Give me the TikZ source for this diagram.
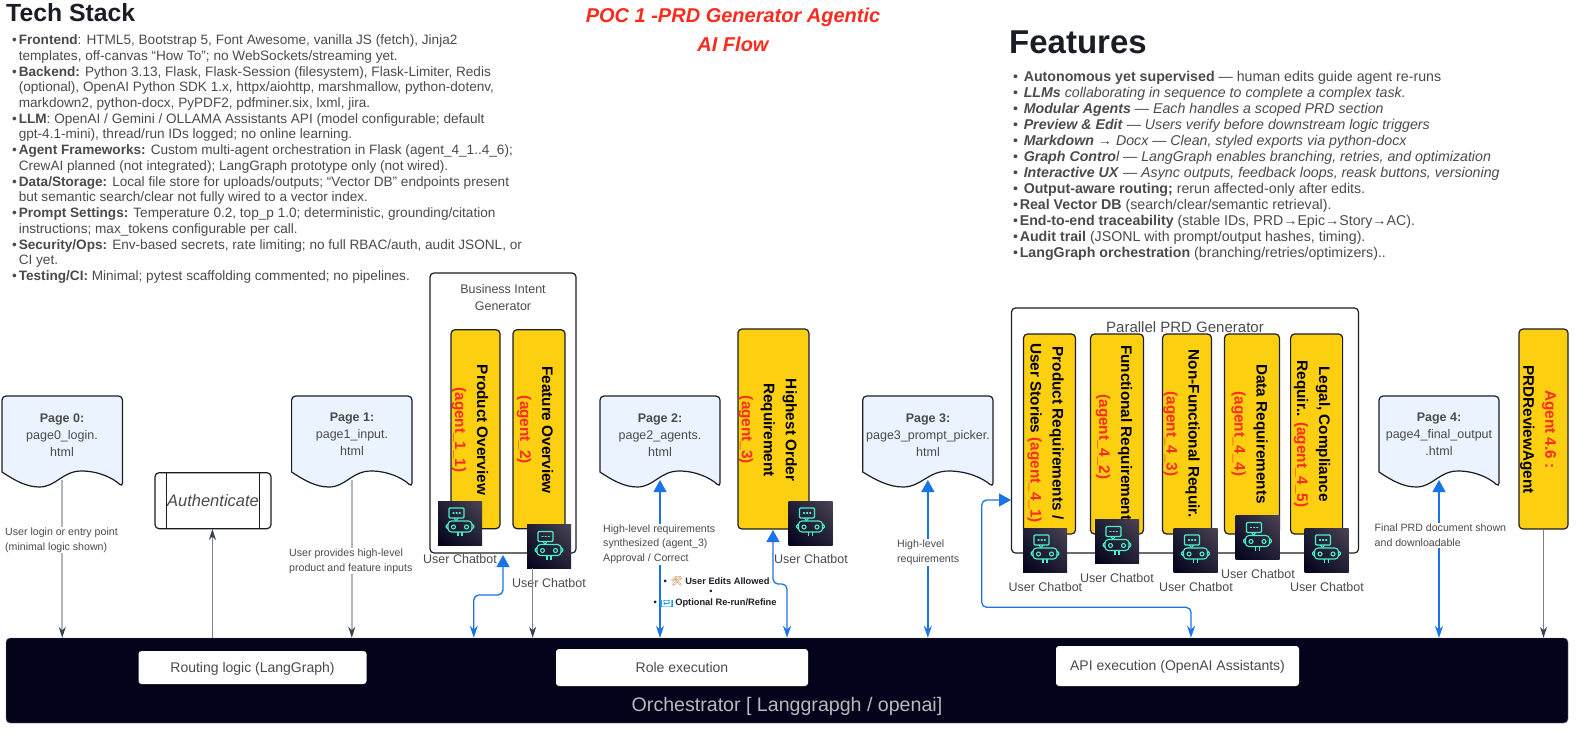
\documentclass[tikz,border=0pt]{standalone}
\usepackage{fontspec}
\setmainfont{Liberation Sans}
\newfontfamily\emojifont{Noto Emoji}
\usetikzlibrary{arrows.meta,positioning,calc,shadings}
\definecolor{bodygray}{HTML}{4A4A4A}
\definecolor{darkink}{HTML}{1A1D26}
\definecolor{agentyellow}{HTML}{FDCF11}
\definecolor{agentred}{HTML}{FB2B1E}
\definecolor{pagefill}{HTML}{EBF4FE}
\definecolor{barnavy}{HTML}{03031C}
\definecolor{linkblue}{HTML}{1A73E8}
\definecolor{linkgray}{HTML}{B2B7BD}
\definecolor{tipgray}{HTML}{374151}
\definecolor{botteal}{HTML}{4CF0C8}
\definecolor{botcorner}{HTML}{4A4452}
\definecolor{botmid}{HTML}{211E36}
\newcommand{\bul}{\makebox[6.6pt][l]{•}}
\newcommand{\ctd}{\hspace*{6.6pt}}
\newcommand{\pagedoc}[3]{% left, width, name
  \draw[pageline] (#1,472) [rounded corners=4pt] -- (#1,396) -- ($(#1,396)+(#2,0)$)
    -- ($(#1,487)+(#2,0)$) [sharp corners]
    .. controls ($(#1,478)+(.92*#2,0)$) and ($(#1,471)+(.8*#2,0)$) .. ($(#1,471)+(.66*#2,0)$)
    .. controls ($(#1,471)+(.5*#2,0)$) and ($(#1,487)+(.45*#2,0)$) .. ($(#1,487)+(.31*#2,0)$)
    .. controls ($(#1,487)+(.2*#2,0)$) and ($(#1,480)+(.1*#2,0)$) .. cycle;
  \coordinate (#3b) at ($(#1,480)+(.5*#2,0)$);
}
\begin{document}
\begin{tikzpicture}[x=1pt,y=-1pt,
  pageline/.style={draw=darkink,line width=1.2pt,fill=pagefill},
  pagetxt/.style={font=\fontsize{12.5}{17}\selectfont,text=bodygray,align=center},
  heading/.style={font=\bfseries,text=darkink,inner sep=0pt},
  bodylist/.style={anchor=north west,inner sep=0pt,align=left,text=bodygray},
  groupbox/.style={draw=darkink,line width=1.2pt,rounded corners=4pt},
  agentbox/.style={draw=darkink,line width=1.2pt,rounded corners=4pt,fill=agentyellow},
  agenttxt/.style={rotate=-90,align=center,inner sep=0pt,text=black,font=\fontsize{15.3}{22}\selectfont\bfseries},
  hint/.style={fill=white,inner sep=1pt,align=left,text=bodygray,font=\fontsize{10.6}{14.6}\selectfont},
  chatlbl/.style={text=bodygray,inner sep=0pt,font=\fontsize{12.5}{15}\selectfont},
  whitebox/.style={fill=white,rounded corners=3pt,text=bodygray,text height=11pt,text depth=2pt,font=\fontsize{14}{16}\selectfont},
  grayarr/.style={draw=linkgray,line width=1.6pt,-{Stealth[width=7pt,length=11pt,color=tipgray]}},
  thinarr/.style={draw=gray,line width=.8pt,-{Stealth[width=7pt,length=11pt,color=tipgray]}},
  bluearr/.style={draw=linkblue,line width=1.3pt,rounded corners=5pt,{Triangle[width=13pt,length=12pt]}-{Stealth[width=8pt,length=12pt]}},
  boticon/.pic={
    \shade[lower left=barnavy,upper right=botcorner,upper left=botmid,lower right=botmid] (-22,-22) rectangle (22,22);
    \begin{scope}[draw=botteal,line width=1.1pt,rounded corners=1pt]
      \draw (-11,-15) rectangle (4,-5);
      \draw (-6,-5) -- (-4,-2) -- (-2,-5);
      \draw[rounded corners=3.5pt] (-12,-2) rectangle (12,9);
      \draw (-6.5,4) circle (2);
      \draw (6.5,4) circle (2);
      \draw (-12,1) -- (-14.5,3.5) -- (-12,6);
      \draw (12,1) -- (14.5,3.5) -- (12,6);
      \draw (-2,9) -- (-2,13);
      \draw (2,9) -- (2,13);
      \draw[dotted,line cap=round] (-7,-10) -- (1,-10);
    \end{scope}
  }]
\useasboundingbox (0,0) rectangle (1583,734);

% titles and lists
\node (stackhd) [heading,anchor=west,font=\fontsize{24.8}{28}\selectfont\bfseries] at (6,13) {Tech Stack};
\node (stacklist) [bodylist,font=\fontsize{13.6}{15.73}\selectfont] at (12,34.5) {%
\bul\textbf{Frontend}: HTML5, Bootstrap 5, Font Awesome, vanilla JS (fetch), Jinja2\\
\ctd templates, off-canvas “How To”; no WebSockets/streaming yet.\\
\bul\textbf{Backend:} Python 3.13, Flask, Flask-Session (filesystem), Flask-Limiter, Redis\\
\ctd (optional), OpenAI Python SDK 1.x, httpx/aiohttp, marshmallow, python-dotenv,\\
\ctd markdown2, python-docx, PyPDF2, pdfminer.six, lxml, jira.\\
\bul\textbf{LLM}: OpenAI / Gemini / OLLAMA Assistants API (model configurable; default\\
\ctd gpt-4.1-mini), thread/run IDs logged; no online learning.\\
\bul\textbf{Agent Frameworks:} Custom multi-agent orchestration in Flask (agent\_4\_1..4\_6);\\
\ctd CrewAI planned (not integrated); LangGraph prototype only (not wired).\\
\bul\textbf{Data/Storage:} Local file store for uploads/outputs; “Vector DB” endpoints present\\
\ctd but semantic search/clear not fully wired to a vector index.\\
\bul\textbf{Prompt Settings:} Temperature 0.2, top\_p 1.0; deterministic, grounding/citation\\
\ctd instructions; max\_tokens configurable per call.\\
\bul\textbf{Security/Ops:} Env-based secrets, rate limiting; no full RBAC/auth, audit JSONL, or\\
\ctd CI yet.\\
\bul\textbf{Testing/CI:} Minimal; pytest scaffolding commented; no pipelines.};

\node (pochd) [heading,align=center,text=agentred,font=\fontsize{20}{28.4}\selectfont\bfseries\itshape] at (733,30) {POC 1 -PRD Generator Agentic\\AI Flow};

\node (feathd) [heading,anchor=west,font=\fontsize{33}{36}\selectfont\bfseries] at (1009,42) {Features};
\node (featlist) [bodylist,font=\fontsize{14.2}{16}\selectfont] at (1013,71.5) {%
\bul\ \textbf{Autonomous yet supervised} — human edits guide agent re-runs\\
\bul\ \textbf{\textit{LLMs}} \textit{collaborating in sequence to complete a complex task.}\\
\bul\ \textbf{\textit{Modular Agents}} \textit{— Each handles a scoped PRD section}\\
\bul\ \textbf{\textit{Preview \& Edit}} \textit{— Users verify before downstream logic triggers}\\
\bul\ \textbf{\textit{Markdown}} \textit{→ Docx — Clean, styled exports via python-docx}\\
\bul\ \textbf{\textit{Graph Contro}}\textit{l — LangGraph enables branching, retries, and optimization}\\
\bul\ \textbf{\textit{Interactive UX}} \textit{— Async outputs, feedback loops, reask buttons, versioning}\\
\bul\ \textbf{Output-aware routing;} rerun affected-only after edits.\\
\bul\textbf{Real Vector DB} (search/clear/semantic retrieval).\\
\bul\textbf{End-to-end traceability} (stable IDs, PRD→Epic→Story→AC).\\
\bul\textbf{Audit trail} (JSONL with prompt/output hashes, timing).\\
\bul\textbf{LangGraph orchestration} (branching/retries/optimizers)..};

% orchestrator bar
\node (orch) [fill=barnavy,draw=gray,rounded corners=4pt,minimum width=1562pt,minimum height=85pt,inner sep=0pt] at (787,680.5) {};
\node (routebox) [whitebox,minimum width=228pt,minimum height=33pt] at (252.5,667.5) {Routing logic (LangGraph)};
\node (rolebox) [whitebox,minimum width=252pt,minimum height=37pt] at (682,667.5) {Role execution};
\node (apibox) [whitebox,minimum width=243pt,minimum height=40pt] at (1177.5,666) {API execution (OpenAI Assistants)};
\node (orchtxt) [inner sep=0pt,text=gray!55!white,font=\fontsize{19.6}{22}\selectfont] at (787,706.5) {Orchestrator [ Langgrapgh / openai]};

% pages
\pagedoc{2}{120.5}{pg0}
\pagedoc{291.6}{120.4}{pg1}
\pagedoc{600}{120}{pg2}
\pagedoc{862.7}{130.3}{pg3}
\pagedoc{1379}{120}{pg4}
\node (pg0) [pagetxt] at (62,434.7) {\textbf{Page 0:}\\page0\_login.\\html};
\node (pg1) [pagetxt] at (352,434.7) {\textbf{Page 1:}\\page1\_input.\\html};
\node (pg2) [pagetxt] at (660,434.7) {\textbf{Page 2:}\\page2\_agents.\\html};
\node (pg3) [pagetxt] at (928,434.7) {\textbf{Page 3:}\\page3\_prompt\_picker.\\html};
\node (pg4) [pagetxt] at (1439,434.7) {\textbf{Page 4:}\\page4\_final\_output\\.html};

\node (auth) [groupbox,minimum width=116pt,minimum height=56pt,inner sep=0pt,text=bodygray,font=\fontsize{16.5}{18}\selectfont\itshape] at (213,500.7) {Authenticate};
\draw[darkink,line width=1.2pt] (166.5,472.7) -- (166.5,528.7);
\draw[darkink,line width=1.2pt] (259.5,472.7) -- (259.5,528.7);

% groups
\node (bizgroup) [groupbox,minimum width=146pt,minimum height=280pt] at (503,413) {};
\node (bizlbl) [pagetxt] at (503,298) {Business Intent\\Generator};
\node (prdgroup) [groupbox,minimum width=347pt,minimum height=245pt] at (1185,430.5) {};
\node (prdlbl) [inner sep=0pt,text=bodygray,font=\fontsize{15}{16}\selectfont] at (1185,326.7) {Parallel PRD Generator};

% agents
\node (ag11) [agentbox,minimum width=49pt,minimum height=199pt] at (475.5,429.2) {};
\node (ag12) [agentbox,minimum width=52pt,minimum height=199pt] at (539,429.2) {};
\node (ag3) [agentbox,minimum width=71pt,minimum height=200pt] at (773.4,429) {};
\node (ag41) [agentbox,minimum width=52pt,minimum height=200pt] at (1049.5,434) {};
\node (ag42) [agentbox,minimum width=53pt,minimum height=200pt] at (1117,434) {};
\node (ag43) [agentbox,minimum width=49pt,minimum height=200pt] at (1187,434) {};
\node (ag44) [agentbox,minimum width=55pt,minimum height=200pt] at (1252,434) {};
\node (ag45) [agentbox,minimum width=52pt,minimum height=200pt] at (1316.6,434) {};
\node (ag46) [agentbox,minimum width=49pt,minimum height=200pt] at (1543.5,429) {};
\node (ag11t) [agenttxt] at (470,430) {Product Overview\\{\color{agentred}(agent\_1\_1)}};
\node (ag12t) [agenttxt] at (535,430) {Feature Overview\\{\color{agentred}(agent\_2)}};
\node (ag3t) [agenttxt] at (767.8,430) {Highest Order\\Requirement\\{\color{agentred}(agent\_3)}};
\node (ag41t) [agenttxt] at (1045.6,433) {Product Requirements /\\User Stories {\color{agentred}(agent\_4\_1)}};
\node (ag42t) [agenttxt] at (1114,437) {Functional Requirements\\{\color{agentred}(agent\_4\_2)}};
\node (ag43t) [agenttxt] at (1181.6,434) {Non-Functional Requir.\\{\color{agentred}(agent\_4\_3)}};
\node (ag44t) [agenttxt] at (1249.5,434) {Data Requirements\\{\color{agentred}(agent\_4\_4)}};
\node (ag45t) [agenttxt] at (1312,434) {Legal, Compliance\\Requir.. {\color{agentred}(agent\_4\_5)}};
\node (ag46t) [agenttxt] at (1538.2,429.5) {{\color{agentred}Agent 4.6 :}\\PRDReviewAgent};

% chatbot icons with their captions
\foreach \nm/\bx/\by/\cx/\cy in {a/460/523/460/559,b/549/546.5/549/583,c/810.5/523/811/559,
    d/1045/550/1045.4/586.7,e/1117/541.5/1117/577.7,f/1195.5/550/1196/587.3,g/1257.5/537.5/1258/574,h/1326.5/550/1327/587.3}{
  \pic at (\bx,\by) {boticon};
  \node (uc\nm) [chatlbl] at (\cx,\cy) {User Chatbot};
}

% free ends of the links
\coordinate (bizin) at (503,555);
\coordinate (hi3in) at (773,530);
\coordinate (prdin) at (1011,500);
\coordinate (authin) at (212.4,529);

% links
\draw[grayarr] (pg0b) -- (pg0b |- orch.north);
\draw[thinarr] (orch.north -| authin) -- (authin);
\draw[grayarr] (pg1b) -- (pg1b |- orch.north);
\draw[bluearr] (bizin) -- (503,595) -- (473.8,595) -- (473.8,637.7);
\draw[thinarr] (532.7,568) -- (532.7,637.7);
\draw[bluearr] (pg2b) -- (pg2b |- orch.north);
\draw[bluearr] (hi3in) -- (773,584) -- (787,584) -- (787,637.7);
\draw[bluearr] (pg3b) -- (pg3b |- orch.north);
\draw[bluearr] (prdin) -- (981.7,500) -- (981.7,607.3) -- (1191,607.3) -- (1191,637.7);
\draw[bluearr] (pg4b) -- (pg4b |- orch.north);
\draw[thinarr] (ag46.south) -- (ag46.south |- orch.north);

% labels on the links
\node (hintlogin) [hint,anchor=west] at (4,540) {User login or entry point\\(minimal logic shown)};
\node (hintinput) [hint,anchor=west] at (288,561) {User provides high-level\\ product and feature inputs};
\node (hintagents) [hint,anchor=west] at (602,544.2) {High-level requirements\\synthesized (agent\_3)\\Approval / Correct};
\node (hintreq) [hint,anchor=west] at (896,552.5) {High-level\\requirements};
\node (hintfinal) [hint,anchor=west] at (1373.5,535.5) {Final PRD document shown\\and downloadable};

% edit notes
\node (noteedit) [anchor=west,inner sep=0pt,text=darkink,font=\fontsize{9.3}{11}\selectfont] at (663.5,581) {\textbf{•\hspace{4pt}{\emojifont\color{orange!70!black}🛠}\hspace{2.5pt}User Edits Allowed}};
\node (notedot) [inner sep=0pt,text=darkink,font=\fontsize{9.3}{11}\selectfont] at (711,592) {•};
\node (notererun) [anchor=west,inner sep=0pt,text=darkink,font=\fontsize{9.3}{11}\selectfont] at (653.5,602.7) {\textbf{•\hspace{3.5pt}\setlength{\fboxsep}{.5pt}\colorbox{linkblue!75!cyan}{\raisebox{0pt}[5pt][1.5pt]{\emojifont\color{white}🔁}}\hspace{2pt}Optional Re-run/Refine}};
\end{tikzpicture}
\end{document}
